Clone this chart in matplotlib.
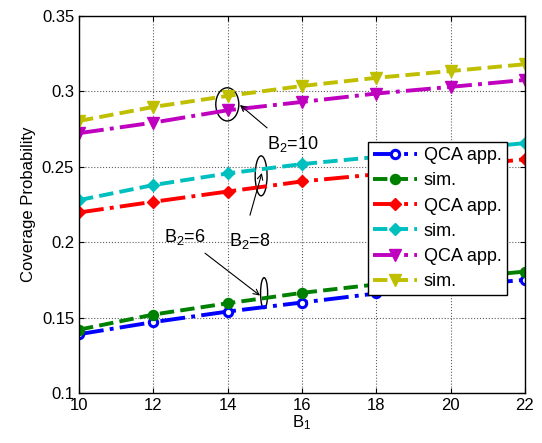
import matplotlib
matplotlib.use('Agg')
import matplotlib.pyplot as plt
from matplotlib.patches import Ellipse

plt.rcParams['font.family'] = ['Liberation Sans', 'DejaVu Sans']
plt.rcParams['mathtext.fontset'] = 'custom'
plt.rcParams['mathtext.rm'] = 'Liberation Sans'
plt.rcParams['mathtext.it'] = 'Liberation Sans'

b1 = [10, 12, 14, 16, 18, 20, 22]

# B2 = 6
qca_b6 = [0.139, 0.147, 0.154, 0.160, 0.166, 0.171, 0.175]
sim_b6 = [0.142, 0.152, 0.1595, 0.1664, 0.172, 0.176, 0.1805]
# B2 = 8
qca_b8 = [0.2197, 0.2268, 0.2336, 0.2403, 0.245, 0.250, 0.255]
sim_b8 = [0.2279, 0.2379, 0.2456, 0.2518, 0.2565, 0.261, 0.2657]
# B2 = 10
qca_b10 = [0.2723, 0.2793, 0.2875, 0.293, 0.2986, 0.303, 0.3076]
sim_b10 = [0.2804, 0.2897, 0.297, 0.3036, 0.309, 0.3135, 0.318]

fig = plt.figure(figsize=(5.42, 4.43), dpi=100)
ax = fig.add_axes([0.1458, 0.1129, 0.8228, 0.851])

lw = 2.8
ax.plot(b1, qca_b6, '-.', color='#0000ff', lw=lw, marker='o', ms=6, mfc='white', mew=2.2, label='QCA app.')
ax.plot(b1, sim_b6, '--', color='#008000', lw=lw, marker='o', ms=6, mfc='#008000', mew=2.2, label='sim.')
ax.plot(b1, qca_b8, '-.', color='#ff0000', lw=lw, marker='D', ms=6, label='QCA app.')
ax.plot(b1, sim_b8, '--', color='#00bfbf', lw=lw, marker='D', ms=6, label='sim.')
ax.plot(b1, qca_b10, '-.', color='#bf00bf', lw=lw, marker='v', ms=8.5, label='QCA app.')
ax.plot(b1, sim_b10, '--', color='#bfbf00', lw=lw, marker='v', ms=8.5, label='sim.')

ax.set_xlim(10, 22)
ax.set_ylim(0.1, 0.35)
ax.set_xticks(b1)
ax.set_yticks([0.1, 0.15, 0.2, 0.25, 0.3, 0.35])
ax.set_yticklabels(['0.1', '0.15', '0.2', '0.25', '0.3', '0.35'])
ax.tick_params(labelsize=12, direction='in', top=True, right=True)
ax.grid(True, linestyle=':', color='#606060', lw=0.8)
for s in ax.spines.values():
    s.set_linewidth(1.0)

ax.set_xlabel('B$_1$', fontsize=12, labelpad=0)
ax.set_ylabel('Coverage Probability', fontsize=12)

# ellipses marking each group of curves
ax.add_patch(Ellipse((13.99, 0.2914), 0.62, 0.022, fill=False, lw=1.0, color='k'))
ax.add_patch(Ellipse((14.9, 0.244), 0.32, 0.0265, fill=False, lw=1.0, color='k'))
ax.add_patch(Ellipse((14.98, 0.1662), 0.19, 0.0205, fill=False, lw=1.0, color='k'))

arrow = dict(arrowstyle='->', color='k', lw=0.8, shrinkA=0, shrinkB=0)
ax.annotate('', xy=(14.33, 0.291), xytext=(15.06, 0.2758), arrowprops=arrow)
ax.annotate('', xy=(14.92, 0.2459), xytext=(14.6, 0.2179), arrowprops=arrow)
ax.annotate('', xy=(14.87, 0.1646), xytext=(13.39, 0.1927), arrowprops=arrow)

ax.text(15.74, 0.2652, 'B$_2$=10', fontsize=13, ha='center', va='center')
ax.text(14.6, 0.2007, 'B$_2$=8', fontsize=13, ha='center', va='center')
ax.text(12.85, 0.2033, 'B$_2$=6', fontsize=13, ha='center', va='center')

leg = ax.legend(loc='upper left', bbox_to_anchor=(0.648, 0.666), fontsize=13,
                fancybox=False, framealpha=1, edgecolor='k', handlelength=2.4,
                borderpad=0.3, labelspacing=0.45, handletextpad=0.4,
                borderaxespad=0)
leg.get_frame().set_linewidth(1.0)

fig.savefig('out.png', dpi=100)
